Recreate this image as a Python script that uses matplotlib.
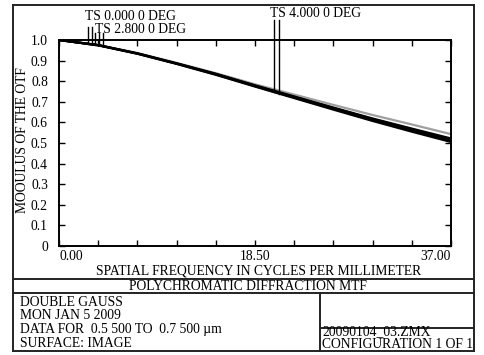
"""
MTF-Diagramm (Zemax-Stil) nachgebaut mit matplotlib.
"""

# === Imports ===
import numpy as np
import matplotlib
matplotlib.use("Agg")
import matplotlib.pyplot as plt
from matplotlib.lines import Line2D

# === Daten ===
freq = [0.0, 3.7, 7.4, 11.1, 14.8, 18.5, 22.2, 25.9, 29.6, 33.3, 37.0]
diff_limit = [1.000, 0.976, 0.937, 0.889, 0.839, 0.785, 0.735, 0.685, 0.636, 0.590, 0.543]
mtf_field0 = [1.000, 0.975, 0.935, 0.886, 0.835, 0.778, 0.724, 0.670, 0.616, 0.566, 0.518]
mtf_t28 = [1.000, 0.975, 0.934, 0.885, 0.833, 0.776, 0.721, 0.666, 0.612, 0.560, 0.511]
mtf_s28 = [1.000, 0.975, 0.935, 0.887, 0.836, 0.780, 0.726, 0.672, 0.619, 0.570, 0.522]
mtf_t40 = [1.000, 0.974, 0.933, 0.884, 0.831, 0.774, 0.718, 0.662, 0.607, 0.555, 0.505]

x_ticks = [0.0, 3.7, 7.4, 11.1, 14.8, 18.5, 22.2, 25.9, 29.6, 33.3, 37.0]
x_labels = ["0.00", "", "", "", "", "18.50", "", "", "", "", "37.00"]
y_ticks = [0.0, 0.1, 0.2, 0.3, 0.4, 0.5, 0.6, 0.7, 0.8, 0.9, 1.0]
y_labels = ["0", "0.1", "0.2", "0.3", "0.4", "0.5", "0.6", "0.7", "0.8", "0.9", "1.0"]

# Legenden-Markierungen (Frequenzen der senkrechten Striche)
marker_0 = [2.78, 3.07]
marker_28 = [3.40, 3.78, 4.15]
marker_40 = [20.29, 20.77]

info_lines = ["DOUBLE GAUSS", "MON JAN 5 2009",
              "DATA FOR  0.5 500 TO  0.7 500 \u00b5m", "SURFACE: IMAGE"]

plt.rcParams['font.family'] = ['Liberation Serif', 'DejaVu Serif']
FS = 9.8

W, H = 484, 355
fig = plt.figure(figsize=(W / 100, H / 100), dpi=100)


def px(x, y):
    # Pixel -> Figurkoordinaten
    return x / W, 1 - y / H


# === Achse ===
ax_l, ax_t, ax_r, ax_b = 59, 40, 451, 246
ax = fig.add_axes([ax_l / W, 1 - ax_b / H, (ax_r - ax_l) / W, (ax_b - ax_t) / H])
ax.set_xlim(0, 37)
ax.set_ylim(0, 1)

ax.plot(freq, diff_limit, color='#a0a0a0', lw=1.6, zorder=2)
for serie in [mtf_field0, mtf_t28, mtf_s28, mtf_t40]:
    ax.plot(freq, serie, color='black', lw=1.6, zorder=3)

# senkrechte Markierungsstriche
for f in marker_0:
    ax.plot([f, f], [np.interp(f, freq, mtf_field0), 1.063], color='black', lw=1, clip_on=False)
for f in marker_28:
    ax.plot([f, f], [np.interp(f, freq, mtf_t28), 1.034], color='black', lw=1, clip_on=False)
for f in marker_40:
    ax.plot([f, f], [np.interp(f, freq, mtf_t40), 1.097], color='black', lw=1, clip_on=False)

ax.text(2.45, 1.112, "TS 0.000 0 DEG", fontsize=FS, va='center', ha='left')
ax.text(3.40, 1.053, "TS 2.800 0 DEG", fontsize=FS, va='center', ha='left')
ax.text(19.9, 1.131, "TS 4.000 0 DEG", fontsize=FS, va='center', ha='left')

ax.set_xticks(x_ticks)
ax.set_xticklabels(x_labels, fontsize=FS)
ax.set_yticks(y_ticks)
ax.set_yticklabels(y_labels, fontsize=FS)
ax.tick_params(direction='in', length=4, width=1, top=True, right=True)
ax.tick_params(axis='y', pad=8)
ax.tick_params(axis='x', pad=3)
xt = ax.get_xticklabels()
xt[0].set_horizontalalignment('left')
xt[-1].set_horizontalalignment('right')
for sp in ax.spines.values():
    sp.set_linewidth(1.4)

fig.text(*px(23, 140), "MOOULUS OF THE OTF", rotation=90, fontsize=FS, ha='center', va='center')
fig.text(*px(259, 271), "SPATIAL FREQUENCY IN CYCLES PER MILLIMETER", fontsize=FS, ha='center', va='center')
fig.text(*px(248, 286), "POLYCHROMATIC DIFFRACTION MTF", fontsize=FS, ha='center', va='center')

for i, t in enumerate(info_lines):
    fig.text(*px(20, 302 + i * 13.8), t, fontsize=FS, ha='left', va='center')
fig.text(*px(322, 331.5), "20090104_03.ZMX", fontsize=FS, ha='left', va='center')
fig.text(*px(322, 344.5), "CONFIGURATION 1 OF 1", fontsize=FS, ha='left', va='center')

# === Rahmen ===
L, R, T, B = 13, 474, 5, 351
rahmen = [
    ((L, R), (T, T)), ((L, R), (B, B)), ((L, L), (T, B)), ((R, R), (T, B)),
    ((L, R), (279, 279)), ((L, R), (293, 293)),
    ((320, 320), (293, B)), ((320, R), (328, 328)),
]
for (x0, x1), (y0, y1) in rahmen:
    fig.add_artist(Line2D([x0 / W, x1 / W], [1 - y0 / H, 1 - y1 / H],
                          transform=fig.transFigure, color='#222222', lw=1.4))

fig.savefig("out.png", dpi=100)
